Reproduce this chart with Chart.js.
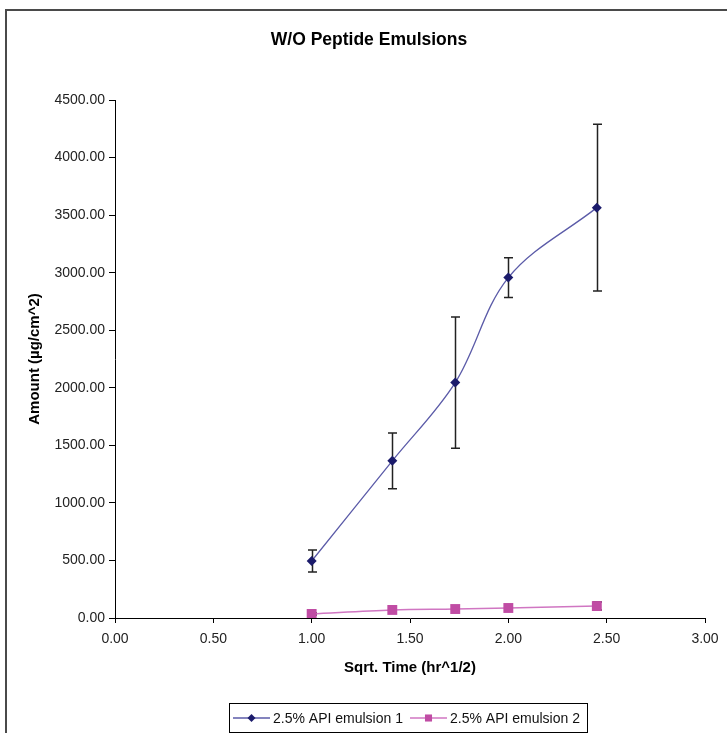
<!DOCTYPE html>
<html>
<head>
<meta charset="utf-8">
<script src="https://cdn.jsdelivr.net/npm/chart.js@4/dist/chart.umd.min.js"></script>
<style>
html,body{margin:0;padding:0;background:#fff;overflow:hidden}
canvas{display:block}
</style>
</head>
<body>
<canvas id="c" width="727" height="733"></canvas>
<script>
// ---- data ----
const chartTitle = 'W/O Peptide Emulsions';
const xAxisTitle = 'Sqrt. Time (hr^1/2)';
const yAxisTitle = 'Amount (µg/cm^2)';
const seriesNames = ['2.5% API emulsion 1', '2.5% API emulsion 2'];
const sqrtTime = [1.00, 1.41, 1.73, 2.00, 2.45];
const emulsion1 = [495, 1365, 2045, 2957, 3565];
const emulsion1Err = [95, 243, 570, 173, 725];
const emulsion2 = [35, 70, 78, 87, 104];
const emulsion2Err = [8, 14, 12, 12, 35];
const xTickValues = [0, 0.5, 1, 1.5, 2, 2.5, 3];
const yTickValues = [0, 500, 1000, 1500, 2000, 2500, 3000, 3500, 4000, 4500];

const FONT = '"Liberation Sans", Arial, sans-serif';
const c1 = '#1b1b6b', c1line = '#5b5ba8';
const c2 = '#c04ca4', c2line = '#d076c2';

const toPoints = (xs, ys) => xs.map((x, i) => ({x, y: ys[i]}));

const errorBarPlugin = {
  id: 'errorBars',
  beforeDatasetsDraw(chart) {
    const ctx = chart.ctx;
    const ys = chart.scales.y, xs = chart.scales.x;
    chart.data.datasets.forEach((ds) => {
      if (!ds.errors) return;
      ctx.save();
      ctx.strokeStyle = '#222';
      ctx.lineWidth = 1.5;
      ds.data.forEach((p, i) => {
        const e = ds.errors[i];
        const px = Math.round(xs.getPixelForValue(p.x)) + 0.5;
        const top = ys.getPixelForValue(p.y + e);
        const bot = ys.getPixelForValue(p.y - e);
        ctx.beginPath();
        ctx.moveTo(px, top); ctx.lineTo(px, bot);
        ctx.moveTo(px - 4.5, top); ctx.lineTo(px + 4.5, top);
        ctx.moveTo(px - 4.5, bot); ctx.lineTo(px + 4.5, bot);
        ctx.stroke();
      });
      ctx.restore();
    });
  }
};

const framePlugin = {
  id: 'frameTitleLegend',
  afterDraw(chart) {
    const ctx = chart.ctx;
    ctx.save();
    // outer chart frame (only left and top edges are inside the picture)
    ctx.strokeStyle = '#4a4a4a';
    ctx.lineWidth = 2;
    ctx.beginPath();
    ctx.moveTo(6, 733); ctx.lineTo(6, 10); ctx.lineTo(727, 10);
    ctx.stroke();

    // chart title
    ctx.fillStyle = '#000';
    ctx.font = 'bold 17.5px ' + FONT;
    ctx.textAlign = 'center';
    ctx.textBaseline = 'middle';
    ctx.fillText(chartTitle, 369, 40);

    // legend box
    const lx = 229.5, ly = 703.5, lw = 358, lh = 29;
    ctx.fillStyle = '#fff';
    ctx.fillRect(lx, ly, lw, lh);
    ctx.strokeStyle = '#000';
    ctx.lineWidth = 1;
    ctx.strokeRect(lx, ly, lw, lh);
    ctx.font = '14px ' + FONT;
    ctx.textAlign = 'left';
    ctx.textBaseline = 'middle';
    const cy = ly + lh / 2;
    const items = [
      {x: 233, name: seriesNames[0], line: c1line, fill: c1, style: 'rectRot'},
      {x: 410, name: seriesNames[1], line: c2line, fill: c2, style: 'rect'}
    ];
    items.forEach(it => {
      ctx.strokeStyle = it.line;
      ctx.lineWidth = 1.5;
      ctx.beginPath();
      ctx.moveTo(it.x, cy); ctx.lineTo(it.x + 37, cy);
      ctx.stroke();
      ctx.fillStyle = it.fill;
      Chart.helpers.drawPoint(ctx, {pointStyle: it.style, radius: it.style === 'rect' ? 5 : 4, borderWidth: 0}, it.x + 18.5, cy);
      ctx.fillStyle = '#111';
      ctx.fillText(it.name, it.x + 40, cy + 1);
    });
    ctx.restore();
  }
};

new Chart(document.getElementById('c'), {
  type: 'line',
  data: {
    datasets: [
      {
        label: seriesNames[0],
        data: toPoints(sqrtTime, emulsion1),
        errors: emulsion1Err,
        borderColor: c1line,
        borderWidth: 1.3,
        backgroundColor: c1,
        pointBackgroundColor: c1,
        pointBorderColor: c1,
        pointStyle: 'rectRot',
        pointRadius: 5,
        pointBorderWidth: 0,
        tension: 0.35,
        fill: false
      },
      {
        label: seriesNames[1],
        data: toPoints(sqrtTime, emulsion2),
        errors: emulsion2Err,
        borderColor: c2line,
        borderWidth: 1.6,
        backgroundColor: c2,
        pointBackgroundColor: c2,
        pointBorderColor: c2,
        pointStyle: 'rect',
        pointRadius: 7,
        pointBorderWidth: 0,
        tension: 0.35,
        fill: false
      }
    ]
  },
  options: {
    responsive: false,
    animation: false,
    devicePixelRatio: 1,
    layout: {padding: {left: 8, right: 22, top: 100, bottom: 53}},
    plugins: {
      legend: {display: false},
      tooltip: {enabled: false},
      title: {display: false}
    },
    scales: {
      x: {
        type: 'linear',
        min: 0, max: 3,
        afterFit(s) { s.height = 62; },
        afterBuildTicks(s) { s.ticks = xTickValues.map(v => ({value: v})); },
        border: {display: true, color: '#000', width: 1},
        grid: {drawOnChartArea: false, drawTicks: true, tickLength: 5, color: '#000'},
        ticks: {
          color: '#222', padding: 8, maxRotation: 0,
          font: {family: FONT, size: 14},
          callback: v => Number(v).toFixed(2)
        },
        title: {
          display: true, text: xAxisTitle, color: '#000',
          font: {family: FONT, size: 15, weight: 'bold'},
          padding: {top: 0, bottom: 3}
        }
      },
      y: {
        type: 'linear',
        min: 0, max: 4500,
        afterFit(s) { s.width = 107; },
        afterBuildTicks(s) { s.ticks = yTickValues.map(v => ({value: v})); },
        border: {display: true, color: '#000', width: 1},
        grid: {drawOnChartArea: false, drawTicks: true, tickLength: 6, color: '#000'},
        ticks: {
          color: '#222', padding: 4,
          font: {family: FONT, size: 14},
          callback: v => Number(v).toFixed(2)
        },
        title: {
          display: true, text: yAxisTitle, color: '#000',
          font: {family: FONT, size: 15, weight: 'bold'},
          padding: {top: 18, bottom: 0}
        }
      }
    }
  },
  plugins: [errorBarPlugin, framePlugin]
});
</script>
</body>
</html>
